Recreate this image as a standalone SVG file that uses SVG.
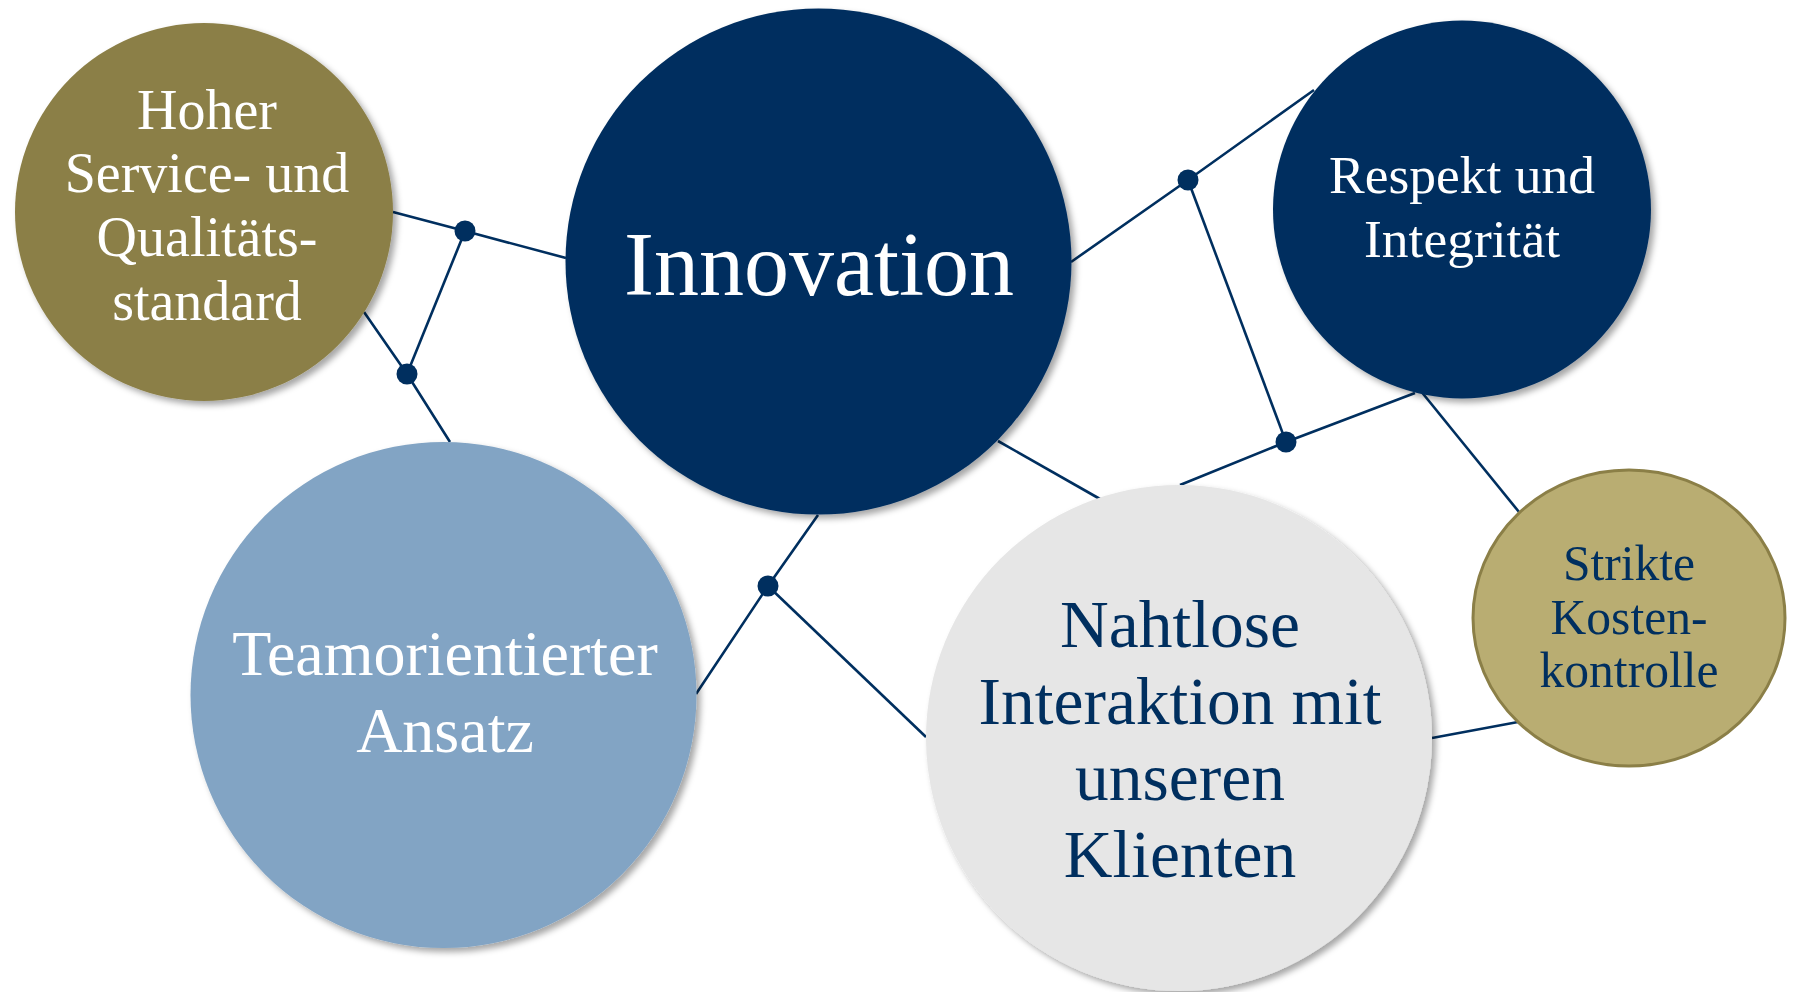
<svg xmlns="http://www.w3.org/2000/svg" width="1795" height="992" viewBox="0 0 1795 992">
<defs>
<filter id="sh" x="-10%" y="-10%" width="125%" height="125%">
<feDropShadow dx="4" dy="4" stdDeviation="3" flood-color="#000" flood-opacity="0.35"/>
</filter>
<style>
.ln{stroke:#002F5F;stroke-width:2.6;fill:none}
.dot{fill:#002F5F}
.t{font-family:"Liberation Serif","Times New Roman",serif;text-anchor:middle}
.w{fill:#FFFFFF}
.n{fill:#002F5F}
</style>
</defs>
<rect width="1795" height="992" fill="#FFFFFF"/>
<g id="connectors">
<polyline class="ln" points="393,212 465,231 566,258"/>
<line class="ln" x1="465" y1="231" x2="407" y2="374"/>
<polyline class="ln" points="364,312 407,374 450,442"/>
<polyline class="ln" points="818,515 768,586 696,694"/>
<line class="ln" x1="768" y1="586" x2="926" y2="737"/>
<line class="ln" x1="998" y1="441" x2="1100" y2="499"/>
<polyline class="ln" points="1071,262 1188,180 1314,90"/>
<line class="ln" x1="1188" y1="180" x2="1286" y2="442"/>
<polyline class="ln" points="1180,485 1286,442 1415,393"/>
<line class="ln" x1="1420" y1="390" x2="1519" y2="512"/>
<line class="ln" x1="1432" y1="738" x2="1518" y2="722"/>
<circle class="dot" cx="465" cy="231" r="10.5"/>
<circle class="dot" cx="407" cy="374" r="10.5"/>
<circle class="dot" cx="768" cy="586" r="10.5"/>
<circle class="dot" cx="1188" cy="180" r="10.5"/>
<circle class="dot" cx="1286" cy="442" r="10.5"/>
</g>
<g id="node-hoher">
<circle cx="204" cy="212" r="189" fill="#8B7F47" filter="url(#sh)"/>
<text class="t w" font-size="56"><tspan x="207" y="129">Hoher</tspan><tspan x="207" y="192">Service- und</tspan><tspan x="207" y="256">Qualitäts-</tspan><tspan x="207" y="320">standard</tspan></text>
</g>
<g id="node-innovation">
<circle cx="818.5" cy="261.5" r="253" fill="#002F5F" filter="url(#sh)"/>
<text class="t w" font-size="90" x="819" y="295">Innovation</text>
</g>
<g id="node-respekt">
<circle cx="1462" cy="209.5" r="189" fill="#002F5F" filter="url(#sh)"/>
<text class="t w" font-size="53.5"><tspan x="1462" y="193">Respekt und</tspan><tspan x="1462" y="257">Integrität</tspan></text>
</g>
<g id="node-team">
<circle cx="443.5" cy="695" r="253" fill="#82A4C4" filter="url(#sh)"/>
<text class="t w" font-size="64"><tspan x="445" y="675">Teamorientierter</tspan><tspan x="445" y="752">Ansatz</tspan></text>
</g>
<g id="node-nahtlose">
<circle cx="1179" cy="738" r="253" fill="#E6E6E6" filter="url(#sh)"/>
<text class="t n" font-size="67.5"><tspan x="1180" y="647">Nahtlose</tspan><tspan x="1180" y="724">Interaktion mit</tspan><tspan x="1180" y="800">unseren</tspan><tspan x="1180" y="877">Klienten</tspan></text>
</g>
<g id="node-strikte">
<ellipse cx="1629" cy="618" rx="156" ry="148" fill="#B9AD72" stroke="#8B7F47" stroke-width="3"/>
<text class="t n" font-size="49.6"><tspan x="1629" y="580">Strikte</tspan><tspan x="1629" y="634">Kosten-</tspan><tspan x="1629" y="687">kontrolle</tspan></text>
</g>
</svg>
